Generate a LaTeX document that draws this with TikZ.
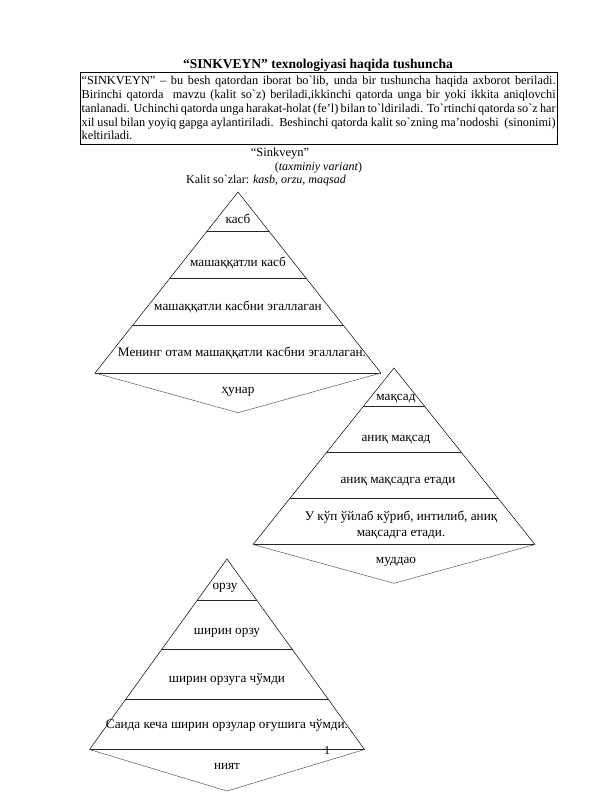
\documentclass[tikz,border=0pt]{standalone}
\usepackage{fontspec}
\setmainfont{Liberation Serif}[Ligatures=TeXOff]
\usetikzlibrary{calc}
\tikzset{
  side/.style={line width=0.5pt, black},
  tier/.style={line width=1pt, black!85},
  vline/.style={line width=0.5pt, black!65},
  lbl/.style={inner sep=0pt, font=\fontsize{12}{13.7}\selectfont},
  plbl/.style={inner sep=0pt, font=\fontsize{13.2}{16.5}\selectfont},
}
\newcommand\mypyr[6]{%
  \coordinate (#1a) at (#2,#3);
  \coordinate (#1l) at (#2-#5,#4);
  \coordinate (#1r) at (#2+#5,#4);
  \coordinate (#1b) at (#2,#6);
  \draw[side] (#1l) -- (#1a) -- (#1r);
  \foreach \t in {0.217,0.477,0.74}{
    \draw[tier] ($(#1a)!\t!(#1l)$) -- ($(#1a)!\t!(#1r)$);}
  \draw[tier] (#1l) -- (#1r);
  \draw[vline] (#1l) -- (#1b) -- (#1r);
}
\begin{document}
\begin{tikzpicture}[x=1pt,y=-1pt]
\useasboundingbox (0,0) rectangle (612,792);
\fill[white] (0,0) rectangle (612,792);
% header
\node[lbl, font=\fontsize{13.5}{15}\selectfont\bfseries] (title) at (318,65.7) {“SINKVEYN” texnologiyasi haqida tushuncha};
\node[draw, line width=0.8pt, inner xsep=1.5pt, inner ysep=0pt, text width=474pt, minimum height=72pt, align=justify,
      font=\fontsize{12.3}{13.75}\selectfont] (desc) at (318.65,108.3)
 {“SINKVEYN” – bu besh qatordan iborat bo`lib, unda bir tushuncha haqida axborot beriladi.\linebreak
 Birinchi qatorda\ \ mavzu (kalit so`z) beriladi,ikkinchi qatorda unga bir yoki ikkita aniqlovchi\linebreak
 tanlanadi. Uchinchi qatorda unga harakat-holat (fe’l) bilan to`ldiriladi. To`rtinchi qatorda so`z har\linebreak
 xil usul bilan yoyiq gapga aylantiriladi.\ \ Beshinchi qatorda kalit so`zning ma’nodoshi\ \ (sinonimi)\linebreak
 keltiriladi.};
\node[lbl, font=\fontsize{12.5}{14}\selectfont] (sk) at (280,153.3) {“Sinkveyn”};
\node[lbl] (tv) at (318.5,167.7) {(\textit{taxminiy variant})};
\node[lbl] (ks) at (266,181) {Kalit so`zlar: \textit{kasb, orzu, maqsad}};
% pyramids
\mypyr{p}{238}{192}{373}{143}{412.7}
\mypyr{q}{394}{368}{544.5}{141}{583.3}
\mypyr{r}{227}{559}{749.5}{137.5}{791}
% pyramid 1 labels
\node[plbl] (p1) at (238,219) {касб};
\node[plbl] (p2) at (238,263.3) {машаққатли касб};
\node[plbl] (p3) at (238,307.3) {машаққатли касбни эгаллаган};
\node[plbl] (p4) at (242,353.3) {Менинг отам машаққатли касбни эгаллаган.};
\node[plbl] (p5) at (238,391.7) {ҳунар};
% pyramid 2 labels
\node[plbl] (q1) at (396,398.3) {мақсад};
\node[plbl] (q2) at (396,439.3) {аниқ мақсад};
\node[plbl] (q3) at (398,481.7) {аниқ мақсадга етади};
\node[plbl, align=center] (q4) at (401,525) {У кўп ўйлаб кўриб, интилиб, аниқ\\мақсадга етади.};
\node[plbl] (q5) at (396,561.7) {муддао};
% pyramid 3 labels
\node[plbl] (r1) at (225,588.3) {орзу};
\node[plbl] (r2) at (227,633.3) {ширин орзу};
\node[plbl] (r3) at (227,679.3) {ширин орзуга чўмди};
\node[plbl] (r4) at (227,725.7) {Саида кеча ширин орзулар оғушига чўмди.};
\node[plbl] (r5) at (227,766) {ният};
\node[lbl] (pg) at (327,751) {1};
\end{tikzpicture}
\end{document}
